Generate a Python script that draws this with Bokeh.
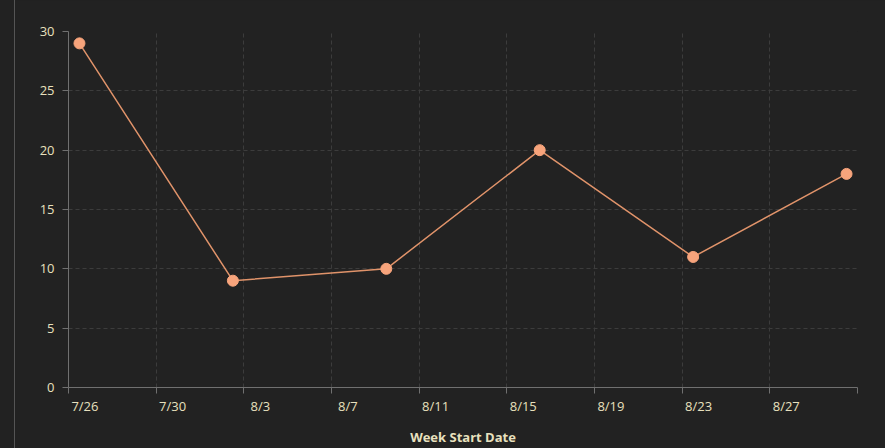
import pandas as pd
from bokeh.plotting import figure
from bokeh.models import Range1d, FixedTicker, Div, DatetimeAxis
from bokeh.layouts import row
from bokeh.embed import file_html
from bokeh.resources import INLINE

# ---- data ----
week_start = ["2020-07-26 12:00", "2020-08-02 12:00", "2020-08-09 12:00",
              "2020-08-16 12:00", "2020-08-23 12:00", "2020-08-30 12:00"]
counts = [29, 9, 10, 20, 11, 18]

x_tick_dates = ["2020-07-26", "2020-07-30", "2020-08-03", "2020-08-07", "2020-08-11",
                "2020-08-15", "2020-08-19", "2020-08-23", "2020-08-27", "2020-08-31"]
x_tick_labels = ["7/26", "7/30", "8/3", "8/7", "8/11", "8/15", "8/19", "8/23", "8/27", ""]
y_ticks = [0, 5, 10, 15, 20, 25, 30]

BG = "#222222"
TXT = "#E8E0BE"
AXC = "#707070"
FONT = "Open Sans"

x = pd.to_datetime(week_start)
tick_dt = pd.to_datetime(x_tick_dates)
tick_ms = [int(t.value // 10**6) for t in tick_dt]

p = figure(width=870, height=448, x_axis_type="datetime", x_axis_location=None,
           output_backend="svg", toolbar_location=None,
           x_range=Range1d(tick_dt[0], tick_dt[-1]),
           y_range=Range1d(0, 30),
           min_border_left=53, min_border_right=28, min_border_top=31, min_border_bottom=61)

p.background_fill_color = BG
p.border_fill_color = BG
p.outline_line_color = None

p.line(x, counts, line_color="#E0936A", line_width=1.5)
p.scatter(x, counts, size=11, fill_color="#F7A47C", line_color="#F7A47C")

# y axis
p.yaxis.ticker = FixedTicker(ticks=y_ticks)
yax = p.yaxis[0]
yax.axis_line_color = AXC
yax.major_tick_line_color = AXC
yax.major_tick_out = 6
yax.major_tick_in = 0
yax.minor_tick_line_color = None
yax.major_label_text_color = TXT
yax.major_label_text_font = FONT
yax.major_label_text_font_size = "13px"
yax.major_label_standoff = 8

# x axis: labels sit just right of each tick (range offset); tick marks drawn as minor ticks
shift = pd.Timedelta(hours=18)
shift_ms = int(shift.value // 10**6)
p.extra_x_ranges = {"labels": Range1d(tick_dt[0] - shift, tick_dt[-1] - shift)}
xax = DatetimeAxis(x_range_name="labels",
                   ticker=FixedTicker(ticks=tick_ms, minor_ticks=[t - shift_ms for t in tick_ms]),
                   major_label_overrides={t: lab for t, lab in zip(tick_ms, x_tick_labels)})
xax.axis_line_color = AXC
xax.major_tick_line_color = None
xax.major_tick_out = 0
xax.major_tick_in = 0
xax.minor_tick_line_color = AXC
xax.minor_tick_out = 6
xax.minor_tick_in = 0
xax.major_label_standoff = 3
xax.major_label_text_color = TXT
xax.major_label_text_font = FONT
xax.major_label_text_font_size = "13px"
xax.axis_label = "Week Start Date"
xax.axis_label_text_color = TXT
xax.axis_label_text_font = FONT
xax.axis_label_text_font_size = "13px"
xax.axis_label_text_font_style = "bold"
xax.axis_label_standoff = 10
p.add_layout(xax, "below")

p.xgrid[0].ticker = FixedTicker(ticks=tick_ms)
for g in p.grid:
    g.grid_line_color = "#3c3c3c"
    g.grid_line_dash = "4 3"
    g.grid_line_width = 1

edge = Div(text="", width=15, height=448, margin=0,
           styles={"border-right": "1px solid #555555", "box-sizing": "border-box",
                   "background-color": BG})

layout = row(edge, p, styles={"background-color": BG})

html = file_html(layout, INLINE)
html = html.replace("<body>", '<body style="background-color:#222222;margin:0;overflow:hidden;">', 1)
open("out.html", "w").write(html)
